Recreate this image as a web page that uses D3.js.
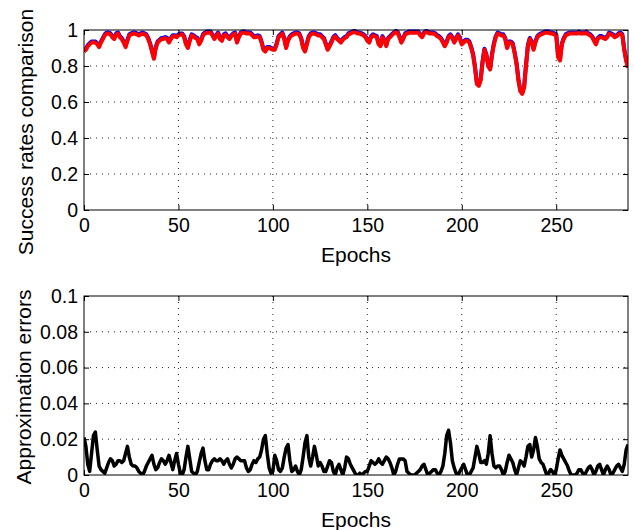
<!DOCTYPE html>
<html>
<head>
<meta charset="utf-8">
<script src="https://cdn.jsdelivr.net/npm/d3@7"></script>
<style>
body { margin: 0; background: #fff; }
text { font-family: "Liberation Sans", Arial, sans-serif; fill: #000; }
</style>
</head>
<body>
<svg id="chart" width="634" height="530"></svg>
<script>

// success rate, second method (red, drawn on top)
var redRates = [
0.88,0.89,0.91,0.92,0.93,0.93,0.93,0.92,0.905,0.93,
0.95,0.97,0.98,0.98,0.975,0.96,0.95,0.975,0.98,0.96,
0.95,0.93,0.905,0.94,0.97,0.975,0.98,0.98,0.975,0.97,
0.975,0.98,0.975,0.97,0.95,0.92,0.88,0.84,0.9,0.93,
0.94,0.95,0.95,0.955,0.95,0.93,0.95,0.965,0.965,0.96,
0.97,0.975,0.975,0.96,0.92,0.9,0.94,0.97,0.965,0.955,
0.95,0.92,0.94,0.97,0.98,0.985,0.985,0.985,0.97,0.95,
0.965,0.98,0.95,0.94,0.97,0.975,0.96,0.95,0.965,0.975,
0.98,0.93,0.96,0.98,0.985,0.985,0.98,0.98,0.98,0.97,
0.96,0.96,0.965,0.96,0.93,0.89,0.88,0.9,0.9,0.895,
0.89,0.89,0.92,0.96,0.97,0.98,0.95,0.9,0.94,0.96,
0.97,0.975,0.98,0.98,0.975,0.95,0.9,0.88,0.92,0.96,
0.975,0.98,0.98,0.975,0.97,0.97,0.96,0.95,0.92,0.89,
0.91,0.93,0.955,0.965,0.95,0.94,0.93,0.945,0.955,0.96,
0.975,0.98,0.985,0.99,0.985,0.98,0.98,0.975,0.97,0.96,
0.94,0.93,0.96,0.97,0.965,0.96,0.92,0.91,0.96,0.94,
0.91,0.95,0.96,0.97,0.98,0.99,0.985,0.96,0.93,0.95,
0.975,0.98,0.985,0.985,0.985,0.985,0.985,0.985,0.97,0.96,
0.98,0.99,0.985,0.98,0.98,0.98,0.975,0.965,0.96,0.95,
0.93,0.91,0.93,0.96,0.97,0.955,0.93,0.95,0.97,0.95,
0.92,0.93,0.94,0.94,0.93,0.9,0.86,0.79,0.7,0.69,
0.72,0.82,0.89,0.86,0.8,0.78,0.86,0.92,0.96,0.98,
0.975,0.97,0.97,0.95,0.9,0.93,0.93,0.92,0.87,0.81,
0.72,0.66,0.645,0.68,0.8,0.91,0.95,0.93,0.89,0.93,
0.96,0.97,0.975,0.98,0.985,0.985,0.985,0.98,0.98,0.975,
0.97,0.85,0.83,0.92,0.95,0.97,0.975,0.98,0.98,0.98,
0.98,0.98,0.985,0.98,0.98,0.98,0.985,0.975,0.97,0.96,
0.94,0.92,0.95,0.96,0.96,0.955,0.95,0.96,0.98,0.975,
0.97,0.96,0.965,0.975,0.98,0.97,0.89,0.83,0.79
];

// success rate, first method (blue, mostly hidden under red)
var blueRates = [
0.886,0.896,0.916,0.926,0.936,0.936,0.936,0.926,0.911,0.936,
0.956,0.976,0.986,0.986,0.981,0.966,0.956,0.981,0.986,0.966,
0.956,0.936,0.911,0.946,0.976,0.981,0.986,0.986,0.981,0.976,
0.981,0.986,0.981,0.976,0.956,0.926,0.886,0.846,0.906,0.936,
0.946,0.956,0.956,0.961,0.956,0.936,0.956,0.971,0.971,0.966,
0.976,0.981,0.981,0.966,0.926,0.906,0.946,0.976,0.971,0.961,
0.956,0.926,0.946,0.976,0.986,0.991,0.991,0.991,0.976,0.956,
0.971,0.986,0.956,0.946,0.976,0.981,0.966,0.956,0.971,0.981,
0.986,0.936,0.966,0.986,0.991,0.991,0.986,0.986,0.986,0.976,
0.966,0.966,0.971,0.966,0.936,0.896,0.886,0.906,0.906,0.901,
0.896,0.896,0.926,0.966,0.976,0.986,0.956,0.906,0.946,0.966,
0.976,0.981,0.986,0.986,0.981,0.956,0.906,0.886,0.926,0.966,
0.981,0.986,0.986,0.981,0.976,0.976,0.966,0.956,0.926,0.896,
0.916,0.936,0.961,0.971,0.956,0.946,0.936,0.951,0.961,0.966,
0.981,0.986,0.991,0.995,0.991,0.986,0.986,0.981,0.976,0.966,
0.946,0.936,0.966,0.976,0.971,0.966,0.926,0.916,0.966,0.946,
0.916,0.956,0.966,0.976,0.986,0.995,0.991,0.966,0.936,0.956,
0.981,0.986,0.991,0.991,0.991,0.991,0.991,0.991,0.976,0.966,
0.986,0.995,0.991,0.986,0.986,0.986,0.981,0.971,0.966,0.956,
0.936,0.916,0.936,0.966,0.976,0.961,0.936,0.956,0.976,0.956,
0.926,0.936,0.946,0.946,0.936,0.906,0.866,0.796,0.706,0.696,
0.726,0.826,0.896,0.866,0.806,0.786,0.866,0.926,0.966,0.986,
0.981,0.976,0.976,0.956,0.906,0.936,0.936,0.926,0.876,0.816,
0.726,0.666,0.651,0.686,0.806,0.916,0.956,0.936,0.896,0.936,
0.966,0.976,0.981,0.986,0.991,0.991,0.991,0.986,0.986,0.981,
0.976,0.856,0.836,0.926,0.956,0.976,0.981,0.986,0.986,0.986,
0.986,0.986,0.991,0.986,0.986,0.986,0.991,0.981,0.976,0.966,
0.946,0.926,0.956,0.966,0.966,0.961,0.956,0.966,0.986,0.981,
0.976,0.966,0.971,0.981,0.986,0.976,0.896,0.836,0.796
];

// approximation error per epoch
var approxErrors = [
0.021,0.016,0.006,0.002,0.012,0.022,0.024,0.014,0.005,0.003,
0.002,0.001,0.004,0.007,0.009,0.008,0.005,0.006,0.008,0.008,
0.007,0.008,0.012,0.016,0.010,0.006,0.005,0.005,0.004,0.002,
0.001,0.000,0.002,0.005,0.007,0.009,0.011,0.006,0.003,0.004,
0.007,0.009,0.008,0.006,0.008,0.011,0.007,0.003,0.008,0.012,
0.006,0.001,0.000,0.003,0.010,0.016,0.009,0.002,0.001,0.000,
0.002,0.007,0.012,0.015,0.008,0.003,0.003,0.006,0.008,0.009,
0.008,0.008,0.009,0.008,0.006,0.008,0.009,0.006,0.004,0.006,
0.009,0.010,0.009,0.008,0.008,0.008,0.004,0.002,0.003,0.006,
0.008,0.007,0.009,0.010,0.014,0.020,0.022,0.012,0.004,0.001,
0.002,0.011,0.008,0.003,0.002,0.004,0.010,0.015,0.017,0.008,
0.002,0.003,0.005,0.002,0.000,0.003,0.010,0.018,0.022,0.010,
0.005,0.010,0.016,0.011,0.005,0.007,0.005,0.002,0.002,0.005,
0.008,0.007,0.002,0.000,0.004,0.006,0.003,0.000,0.004,0.010,
0.009,0.006,0.004,0.002,0.000,0.000,0.001,0.000,0.001,0.002,
0.002,0.005,0.008,0.007,0.006,0.007,0.009,0.007,0.006,0.008,
0.010,0.009,0.007,0.004,0.000,0.002,0.006,0.009,0.009,0.009,
0.008,0.002,0.001,0.000,0.000,0.000,0.001,0.002,0.003,0.005,
0.006,0.003,0.000,0.001,0.002,0.003,0.003,0.001,0.000,0.002,
0.005,0.012,0.022,0.025,0.018,0.008,0.004,0.001,0.000,0.002,
0.004,0.006,0.003,0.000,0.000,0.002,0.004,0.010,0.016,0.012,
0.007,0.007,0.008,0.006,0.012,0.022,0.012,0.005,0.004,0.005,
0.005,0.003,0.000,0.002,0.007,0.011,0.009,0.007,0.003,0.000,
0.004,0.008,0.007,0.005,0.010,0.016,0.017,0.010,0.014,0.021,
0.016,0.009,0.007,0.006,0.003,0.000,0.001,0.003,0.002,0.000,
0.003,0.009,0.014,0.011,0.009,0.007,0.005,0.002,0.000,0.000,
0.000,0.001,0.003,0.003,0.001,0.000,0.002,0.004,0.005,0.003,
0.000,0.002,0.005,0.006,0.003,0.000,0.003,0.005,0.003,0.000,
0.001,0.003,0.005,0.006,0.004,0.002,0.006,0.014,0.017
];

var xTicks = [0, 50, 100, 150, 200, 250];
var rateTicks = [0, 0.2, 0.4, 0.6, 0.8, 1];
var errorTicks = [0, 0.02, 0.04, 0.06, 0.08, 0.1];

var svg = d3.select("#chart");

var left = 84, right = 628;

//one panel: box, grid, ticks on all sides, lines
var drawPanel = function(top, bottom, yMax, yTicks, yLabel, labelX, labelY, series){

var x = d3.scaleLinear().domain([0, redRates.length - 1]).range([left, right]);
var y = d3.scaleLinear().domain([0, yMax]).range([bottom, top]);

var g = svg.append("g");

// dotted grid
g.selectAll(".vg").data(xTicks.slice(1)).enter().append("line")
.attr("x1", function(d){ return x(d); }).attr("x2", function(d){ return x(d); })
.attr("y1", top).attr("y2", bottom)
.style("stroke", "#222").style("stroke-width", 1).style("stroke-dasharray", "1,5");
g.selectAll(".hg").data(yTicks.slice(1, -1)).enter().append("line")
.attr("x1", left).attr("x2", right)
.attr("y1", function(d){ return y(d); }).attr("y2", function(d){ return y(d); })
.style("stroke", "#222").style("stroke-width", 1).style("stroke-dasharray", "1,5");

// data lines
var clipId = "clip" + top;
svg.append("clipPath").attr("id", clipId).append("rect")
.attr("x", left).attr("y", top - 3).attr("width", right - left).attr("height", bottom - top + 3);

series.forEach(function(s){
var line = d3.line()
.x(function(d, i){ return x(i); })
.y(function(d){ return y(d); });
g.append("path")
.datum(s.values)
.attr("d", line)
.attr("clip-path", "url(#" + clipId + ")")
.style("fill", "none")
.style("stroke", s.color)
.style("stroke-width", s.width)
.style("stroke-linejoin", "round");
});

// axes with inward ticks, mirrored
var xb = d3.axisBottom(x).tickValues(xTicks).tickSizeInner(-5).tickSizeOuter(0).tickPadding(8);
var xt = d3.axisTop(x).tickValues(xTicks).tickSizeInner(-5).tickSizeOuter(0).tickFormat("");
var yl = d3.axisLeft(y).tickValues(yTicks).tickSizeInner(-5).tickSizeOuter(0).tickPadding(6).tickFormat(d3.format(""));
var yr = d3.axisRight(y).tickValues(yTicks).tickSizeInner(-5).tickSizeOuter(0).tickFormat("");

[[xb, "translate(0," + bottom + ")"], [xt, "translate(0," + top + ")"],
 [yl, "translate(" + left + ",0)"], [yr, "translate(" + right + ",0)"]].forEach(function(a){
var ax = g.append("g").attr("transform", a[1]).call(a[0]);
ax.select(".domain").remove();
ax.selectAll("line").style("stroke", "#000");
ax.selectAll("text").style("font-size", "19.5px").style("font-family", "Liberation Sans, Arial, sans-serif");
});

g.append("rect")
.attr("x", left).attr("y", top).attr("width", right - left).attr("height", bottom - top)
.style("fill", "none").style("stroke", "#000").style("stroke-width", 1);

g.append("text")
.attr("x", (left + right) / 2).attr("y", bottom + 52)
.attr("text-anchor", "middle")
.style("font-size", "21px")
.text("Epochs");

g.append("text")
.attr("transform", "translate(" + labelX + "," + labelY + ") rotate(-90)")
.attr("text-anchor", "middle")
.style("font-size", "21px")
.text(yLabel);
};

drawPanel(30, 210, 1, rateTicks, "Success rates comparison", 33, 132,
[{values: blueRates, color: "#0000ff", width: 4}, {values: redRates, color: "#ff0000", width: 4}]);

drawPanel(296, 475, 0.1, errorTicks, "Approximation errors", 31, 387,
[{values: approxErrors, color: "#000", width: 3.5}]);

</script>
</body>
</html>
